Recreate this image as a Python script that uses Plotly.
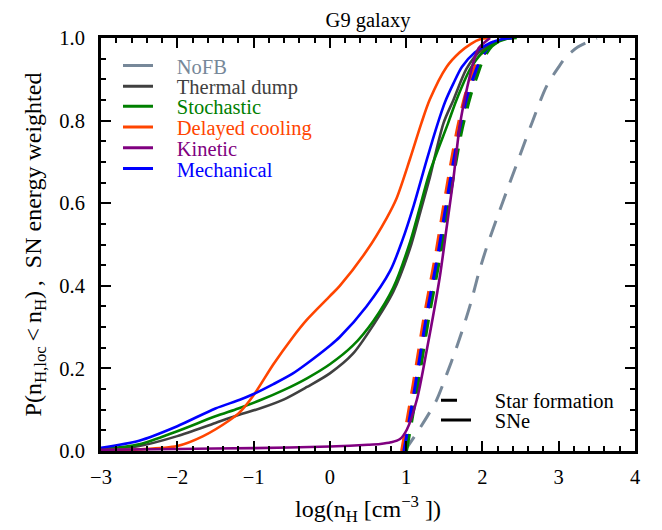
import plotly.graph_objects as go

# ---------------- data ----------------
names = ["NoFB", "Thermal dump", "Stochastic", "Delayed cooling", "Kinetic", "Mechanical"]
colors = ["#778899", "#404040", "#008000", "#FF4500", "#800080", "#0000FF"]
style_names = ["Star formation", "SNe"]

# SNe energy weighted CDFs (solid)
thermal_sne_x = [-3.0, -2.5, -2.0, -1.5, -1.2, -0.9, -0.6, -0.3, 0.0, 0.3, 0.57, 0.83, 1.05, 1.18, 1.3, 1.49, 1.62, 1.79, 1.95, 2.1, 2.25, 2.4]
thermal_sne_y = [0.003, 0.012, 0.036, 0.068, 0.087, 0.104, 0.125, 0.155, 0.188, 0.235, 0.305, 0.385, 0.49, 0.575, 0.655, 0.794, 0.85, 0.925, 0.965, 0.985, 0.996, 1.0]

stoch_sne_x = [-3.0, -2.5, -2.0, -1.5, -1.2, -0.9, -0.6, -0.3, 0.0, 0.3, 0.57, 0.83, 1.05, 1.18, 1.3, 1.55, 1.66, 1.84, 2.0, 2.15, 2.3, 2.45]
stoch_sne_y = [0.004, 0.016, 0.048, 0.084, 0.103, 0.124, 0.148, 0.176, 0.21, 0.255, 0.315, 0.395, 0.505, 0.59, 0.67, 0.794, 0.85, 0.925, 0.965, 0.985, 0.997, 1.0]

delayed_sne_x = [-3.0, -2.5, -2.0, -1.66, -1.31, -1.18, -1.0, -0.74, -0.5, -0.3, 0.0, 0.13, 0.48, 0.745, 0.875, 1.05, 1.2, 1.31, 1.53, 1.7, 1.85, 1.97, 2.1]
delayed_sne_y = [0.002, 0.004, 0.012, 0.036, 0.075, 0.094, 0.135, 0.21, 0.272, 0.318, 0.375, 0.4, 0.484, 0.564, 0.612, 0.707, 0.794, 0.851, 0.93, 0.965, 0.986, 0.997, 1.0]

kinetic_sne_x = [-3.0, -2.0, -1.0, 0.0, 0.5, 0.66, 0.8, 0.92, 1.01, 1.14, 1.27, 1.44, 1.53, 1.62, 1.705, 1.8, 1.88, 1.95, 2.1]
kinetic_sne_y = [0.003, 0.005, 0.007, 0.011, 0.015, 0.017, 0.021, 0.029, 0.052, 0.124, 0.244, 0.42, 0.54, 0.66, 0.79, 0.88, 0.94, 0.975, 1.0]

mech_sne_x = [-3.0, -2.5, -2.0, -1.5, -1.18, -1.0, -0.74, -0.5, -0.3, 0.0, 0.13, 0.48, 0.79, 0.95, 1.1, 1.27, 1.4, 1.51, 1.62, 1.73, 1.9, 2.1, 2.25, 2.4]
mech_sne_y = [0.008, 0.025, 0.06, 0.103, 0.124, 0.138, 0.162, 0.186, 0.212, 0.255, 0.276, 0.35, 0.436, 0.51, 0.595, 0.705, 0.785, 0.845, 0.89, 0.93, 0.965, 0.988, 0.997, 1.0]

# Star formation CDFs (dashed)
nofb_sf_x = [0.98, 1.18, 1.4, 1.53, 1.65, 1.75, 1.85, 1.95, 2.05, 2.19, 2.35, 2.49, 2.65, 2.84, 3.0, 3.1, 3.25, 3.41, 3.5]
nofb_sf_y = [0.0, 0.055, 0.124, 0.185, 0.245, 0.30, 0.36, 0.43, 0.49, 0.564, 0.645, 0.715, 0.795, 0.883, 0.93, 0.955, 0.978, 0.993, 1.0]

thermal_sf_x = [0.98, 1.06, 1.13, 1.2, 1.27, 1.35, 1.43, 1.51, 1.61, 1.71, 1.81, 1.9, 1.99, 2.1, 2.22, 2.32]
thermal_sf_y = [0.0, 0.084, 0.16, 0.24, 0.32, 0.40, 0.48, 0.57, 0.68, 0.78, 0.86, 0.91, 0.95, 0.98, 0.995, 1.0]

stoch_sf_x = [1.005, 1.085, 1.155, 1.225, 1.295, 1.375, 1.455, 1.535, 1.635, 1.735, 1.845, 1.935, 2.015, 2.125, 2.245, 2.345]
stoch_sf_y = [0.0, 0.084, 0.16, 0.24, 0.32, 0.40, 0.48, 0.57, 0.68, 0.78, 0.86, 0.91, 0.95, 0.98, 0.995, 1.0]

delayed_sf_x = [0.94, 1.02, 1.09, 1.16, 1.23, 1.31, 1.39, 1.47, 1.57, 1.67, 1.77, 1.86, 1.95, 2.06, 2.18, 2.28]
delayed_sf_y = [0.0, 0.084, 0.16, 0.24, 0.32, 0.40, 0.48, 0.57, 0.68, 0.78, 0.86, 0.91, 0.95, 0.98, 0.995, 1.0]

kinetic_sf_x = [0.97, 1.05, 1.12, 1.2, 1.27, 1.35, 1.43, 1.51, 1.61, 1.71, 1.81, 1.9, 1.99, 2.1, 2.21, 2.31]
kinetic_sf_y = [0.0, 0.084, 0.16, 0.24, 0.32, 0.40, 0.48, 0.57, 0.68, 0.78, 0.86, 0.91, 0.95, 0.98, 0.995, 1.0]

mech_sf_x = [0.97, 1.05, 1.12, 1.19, 1.26, 1.34, 1.42, 1.5, 1.6, 1.7, 1.8, 1.89, 1.98, 2.09, 2.21, 2.31]
mech_sf_y = [0.0, 0.084, 0.16, 0.24, 0.32, 0.40, 0.48, 0.57, 0.68, 0.78, 0.86, 0.91, 0.95, 0.98, 0.995, 1.0]

x_ticks = [-3, -2, -1, 0, 1, 2, 3, 4]
y_ticks = [0.0, 0.2, 0.4, 0.6, 0.8, 1.0]

# ---------------- figure ----------------
FONT = "Liberation Serif"
DASH = "17px,12px"
BODY = 8                     # default page margin around the plot div
FIG_W, FIG_H = 662 - BODY, 530 - BODY
ML, MT, PW, PH = 93, 30, 534, 417
fig = go.Figure()

sf_series = [
    (nofb_sf_x, nofb_sf_y, colors[0]),
    (thermal_sf_x, thermal_sf_y, colors[1]),
    (kinetic_sf_x, kinetic_sf_y, colors[4]),
    (stoch_sf_x, stoch_sf_y, colors[2]),
    (delayed_sf_x, delayed_sf_y, colors[3]),
    (mech_sf_x, mech_sf_y, colors[5]),
]
for xs, ys, c in sf_series:
    fig.add_trace(go.Scatter(x=xs, y=ys, mode="lines", showlegend=False, hoverinfo="skip",
                             line=dict(color=c, width=3, dash=DASH, shape="spline", smoothing=0.8)))

sne_series = [
    (thermal_sne_x, thermal_sne_y, colors[1]),
    (stoch_sne_x, stoch_sne_y, colors[2]),
    (delayed_sne_x, delayed_sne_y, colors[3]),
    (mech_sne_x, mech_sne_y, colors[5]),
    (kinetic_sne_x, kinetic_sne_y, colors[4]),
]
for xs, ys, c in sne_series:
    fig.add_trace(go.Scatter(x=xs, y=ys, mode="lines", showlegend=False, hoverinfo="skip",
                             line=dict(color=c, width=2.6, shape="spline", smoothing=0.8)))

GAP = "\u00a0\u00a0\u00a0\u2006"


def leg_pos(win_x, win_y):
    fx = win_x - BODY - 7
    fy = win_y - BODY - 1
    return (fx - ML) / PW, (MT + PH - fy) / PH


legend_layout = {}
row_px = [67, 88, 108, 129, 150, 171]
for i, (nm, c) in enumerate(zip(names, colors)):
    key = "legend" if i == 0 else f"legend{i+1}"
    fig.add_trace(go.Scatter(x=[None], y=[None], mode="lines", name=GAP + nm, legend=key,
                             line=dict(color=c, width=3)))
    lx, ly = leg_pos(125, row_px[i])
    legend_layout[key] = dict(x=lx, y=ly, xanchor="left", yanchor="middle", bgcolor="rgba(0,0,0,0)",
                              borderwidth=0, font=dict(family=FONT, size=20.5, color=c))

style_rows = [405, 425]
style_dash = ["16px,40px", "solid"]
for j, nm in enumerate(style_names):
    key = f"legend{7+j}"
    fig.add_trace(go.Scatter(x=[None], y=[None], mode="lines", name=GAP + nm, legend=key,
                             line=dict(color="black", width=3, dash=style_dash[j])))
    lx, ly = leg_pos(443, style_rows[j])
    legend_layout[key] = dict(x=lx, y=ly, xanchor="left", yanchor="middle", bgcolor="rgba(0,0,0,0)",
                              borderwidth=0, font=dict(family=FONT, size=20.5, color="black"))

axis_common = dict(showline=True, linewidth=3, linecolor="black", mirror="allticks",
                   ticks="inside", ticklen=10, tickwidth=2, tickcolor="black",
                   showgrid=False, zeroline=False,
                   tickfont=dict(family=FONT, size=20.5, color="black"))

fig.update_layout(
    width=FIG_W, height=FIG_H,
    margin=dict(l=ML, r=FIG_W - ML - PW, t=MT, b=FIG_H - MT - PH),
    plot_bgcolor="white", paper_bgcolor="white",
    font=dict(family=FONT, size=20, color="black"),
    title=dict(text="G9 galaxy", x=(ML + PW / 2) / FIG_W, xanchor="center",
               y=1 - 12 / FIG_H, yanchor="middle", font=dict(family=FONT, size=20.5, color="black")),
    xaxis=dict(range=[-3, 4], tickvals=x_ticks, ticktext=[f"{v}".replace("-", "\u2212") for v in x_ticks],
               minor=dict(dtick=0.2, tick0=-3, ticks="inside", ticklen=5, tickwidth=1.5, tickcolor="black"),
               ticklabelstandoff=5,
               title=dict(text="log(n<sub>H</sub>\u00a0[cm<sup>\u22123</sup>\u00a0])", standoff=14,
                          font=dict(family=FONT, size=24)),
               **axis_common),
    yaxis=dict(range=[0, 1], tickvals=y_ticks, ticktext=[f"{v:.1f}" for v in y_ticks],
               minor=dict(dtick=0.05, tick0=0, ticks="inside", ticklen=5, tickwidth=1.5, tickcolor="black"),
               ticklabelstandoff=9,
               title=dict(text="P(n<sub>H,loc</sub>\u2009&lt;\u2009n<sub>H</sub>)\u2009,\u00a0\u00a0SN energy weighted",
                          standoff=11, font=dict(family=FONT, size=24)),
               **axis_common),
    **legend_layout,
)

fig.write_html("out.html")
